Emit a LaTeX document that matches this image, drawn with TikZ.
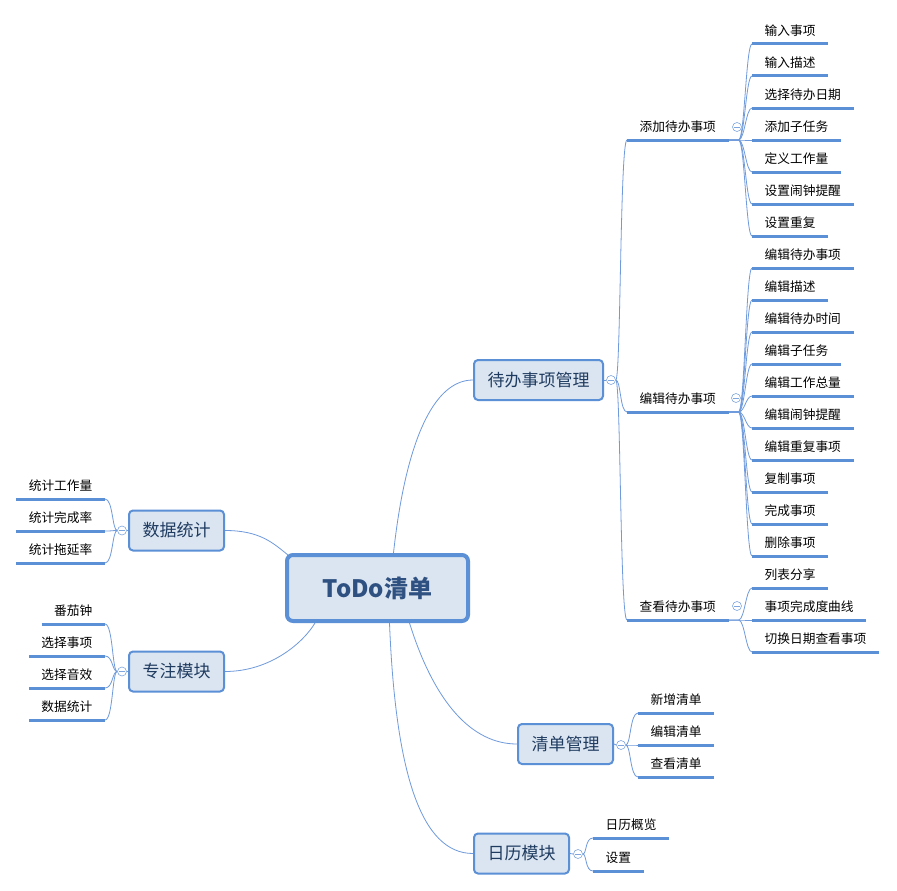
\documentclass[tikz,border=0pt]{standalone}
\usepackage{fontspec}
\setmainfont{Noto Sans CJK SC}
\usetikzlibrary{calc}
\pgfdeclarelayer{background}
\pgfsetlayers{background,main}
\definecolor{lineblue}{HTML}{5B8FD6}
\definecolor{connblue}{HTML}{6F9ADB}
\definecolor{boxfill}{HTML}{DBE5F1}
\definecolor{roottext}{HTML}{2F5182}
\definecolor{branchtext}{HTML}{1F3B60}
\definecolor{foldcol}{HTML}{7FA6DE}
\tikzset{
  rootbox/.style={rectangle, rounded corners=6pt, draw=lineblue, line width=4pt, fill=boxfill,
    minimum width=181pt, minimum height=66pt, inner sep=0pt,
    font=\fontsize{24}{28}\selectfont\bfseries, text=roottext},
  branch/.style={rectangle, rounded corners=4pt, draw=lineblue, line width=2pt, fill=boxfill,
    minimum height=40pt, inner xsep=13.5pt, inner ysep=0pt,
    font=\fontsize{17}{20}\selectfont, text=branchtext},
  leafR/.style={inner xsep=12.5pt, inner ysep=0pt, text height=11pt, text depth=8.7pt,
    font=\fontsize{12.7}{14}\selectfont, text=black, anchor=south west},
  leafL/.style={leafR, anchor=south east},
  uline/.style={draw=lineblue, line width=3pt},
  conn/.style={draw=connblue, line width=0.8pt},
  fold/.style={circle, draw=foldcol, fill=white, minimum size=9pt, inner sep=0pt, line width=0.6pt,
    path picture={\draw[foldcol, line width=0.6pt]
      ([xshift=-2.6pt]path picture bounding box.center) -- ([xshift=2.6pt]path picture bounding box.center);}},
}
\begin{document}
\begin{tikzpicture}[x=1pt, y=-1pt]
\begin{pgfonlayer}{background}
\fill[white] (0,0) rectangle (897,891);
\end{pgfonlayer}
\useasboundingbox (0,0) rectangle (897,891);

% main nodes
\node[rootbox] (root) at (377.5,588) {ToDo清单};
\node[branch] (dai) at (538.5,380) {待办事项管理};
\node[branch] (dsj) at (176.5,530.5) {数据统计};
\node[branch] (zz) at (176.5,671.5) {专注模块};
\node[branch] (qd) at (565.5,744) {清单管理};
\node[branch] (rl) at (521.5,853.5) {日历模块};

% fold buttons
\node[fold] (f1) at (611,380) {};
\node[fold] (f2) at (122,530.5) {};
\node[fold] (f3) at (122,671.5) {};
\node[fold] (f4) at (621,745) {};
\node[fold] (f5) at (578,854) {};
\node[fold] (fs1) at (737,127) {};
\node[fold] (fs2) at (736,398) {};
\node[fold] (fs3) at (737,606) {};

% subtopics
\node[leafR] (s1) at (627,140) {添加待办事项};
\node[leafR] (s2) at (627,412) {编辑待办事项};
\node[leafR] (s3) at (627,620) {查看待办事项};

% leaves of s1
\node[leafR] (a1) at (752,44) {输入事项};
\node[leafR] (a2) at (752,76) {输入描述};
\node[leafR] (a3) at (752,108) {选择待办日期};
\node[leafR] (a4) at (752,140) {添加子任务};
\node[leafR] (a5) at (752,172) {定义工作量};
\node[leafR] (a6) at (752,204) {设置闹钟提醒};
\node[leafR] (a7) at (752,236) {设置重复};
% leaves of s2
\node[leafR] (b1) at (752,268) {编辑待办事项};
\node[leafR] (b2) at (752,300) {编辑描述};
\node[leafR] (b3) at (752,332) {编辑待办时间};
\node[leafR] (b4) at (752,364) {编辑子任务};
\node[leafR] (b5) at (752,396) {编辑工作总量};
\node[leafR] (b6) at (752,428) {编辑闹钟提醒};
\node[leafR] (b7) at (752,460) {编辑重复事项};
\node[leafR] (b8) at (752,492) {复制事项};
\node[leafR] (b9) at (752,524) {完成事项};
\node[leafR] (b10) at (752,556) {删除事项};
% leaves of s3
\node[leafR] (c1) at (752,588) {列表分享};
\node[leafR] (c2) at (752,620) {事项完成度曲线};
\node[leafR] (c3) at (752,652) {切换日期查看事项};
% leaves of 数据统计
\node[leafL] (d1) at (105,499) {统计工作量};
\node[leafL] (d2) at (105,531) {统计完成率};
\node[leafL] (d3) at (105,563) {统计拖延率};
% leaves of 专注模块
\node[leafL] (z1) at (105,624) {番茄钟};
\node[leafL] (z2) at (105,656) {选择事项};
\node[leafL] (z3) at (105,688) {选择音效};
\node[leafL] (z4) at (105,720) {数据统计};
% leaves of 清单管理
\node[leafR] (q1) at (638,713) {新增清单};
\node[leafR] (q2) at (638,745) {编辑清单};
\node[leafR] (q3) at (638,777) {查看清单};
% leaves of 日历模块
\node[leafR] (r1) at (593,838) {日历概览};
\node[leafR] (r2) at (593,871) {设置};

\begin{pgfonlayer}{background}
% connectors from root
\draw[conn] ($(root.north)+(16,0)$) .. controls +(12,-110) and +(-40,0) .. (dai.west);
\draw[conn] ($(root.south)+(32,0)$) .. controls +(25,80) and +(-45,0) .. (qd.west);
\draw[conn] ($(root.south)+(12,0)$) .. controls +(6,150) and +(-52,0) .. (rl.west);
\draw[conn] (dsj.east) .. controls +(35,0) and +(-15,-12) .. ($(root.north west)+(3,2)$);
\draw[conn] (zz.east) .. controls +(45,0) and +(-12,20) .. ($(root.south west)+(30,0)$);

% stubs to fold buttons
\draw[conn] (dai.east) -- (f1.west);
\draw[conn] (dsj.west) -- (f2.east);
\draw[conn] (zz.west) -- (f3.east);
\draw[conn] (qd.east) -- (f4.west);
\draw[conn] (rl.east) -- (f5.west);

% branch to subtopics
\foreach \n in {s1,s2,s3}
  \draw[conn] (f1.east) .. controls +(5,0) and +(-7,0) .. (\n.south west);

% subtopics to leaves
\foreach \n in {a1,a2,a3,a4,a5,a6,a7}
  \draw[conn] (s1.south east) -- +(10,0) .. controls +(6,0) and +(-6,0) .. (\n.south west);
\foreach \n in {b1,b2,b3,b4,b5,b6,b7,b8,b9,b10}
  \draw[conn] (s2.south east) -- +(10,0) .. controls +(6,0) and +(-6,0) .. (\n.south west);
\foreach \n in {c1,c2,c3}
  \draw[conn] (s3.south east) -- +(10,0) .. controls +(6,0) and +(-6,0) .. (\n.south west);
\foreach \n in {d1,d2,d3}
  \draw[conn] (f2.west) .. controls +(-5,0) and +(8,0) .. (\n.south east);
\foreach \n in {z1,z2,z3,z4}
  \draw[conn] (f3.west) .. controls +(-5,0) and +(8,0) .. (\n.south east);
\foreach \n in {q1,q2,q3}
  \draw[conn] (f4.east) .. controls +(5,0) and +(-8,0) .. (\n.south west);
\foreach \n in {r1,r2}
  \draw[conn] (f5.east) .. controls +(4,0) and +(-8,0) .. (\n.south west);
\end{pgfonlayer}

% underlines
\foreach \n in {s1,s2,s3,a1,a2,a3,a4,a5,a6,a7,b1,b2,b3,b4,b5,b6,b7,b8,b9,b10,c1,c2,c3,d1,d2,d3,z1,z2,z3,z4,q1,q2,q3,r1,r2}
  \draw[uline] (\n.south west) -- (\n.south east);
\end{tikzpicture}
\end{document}
